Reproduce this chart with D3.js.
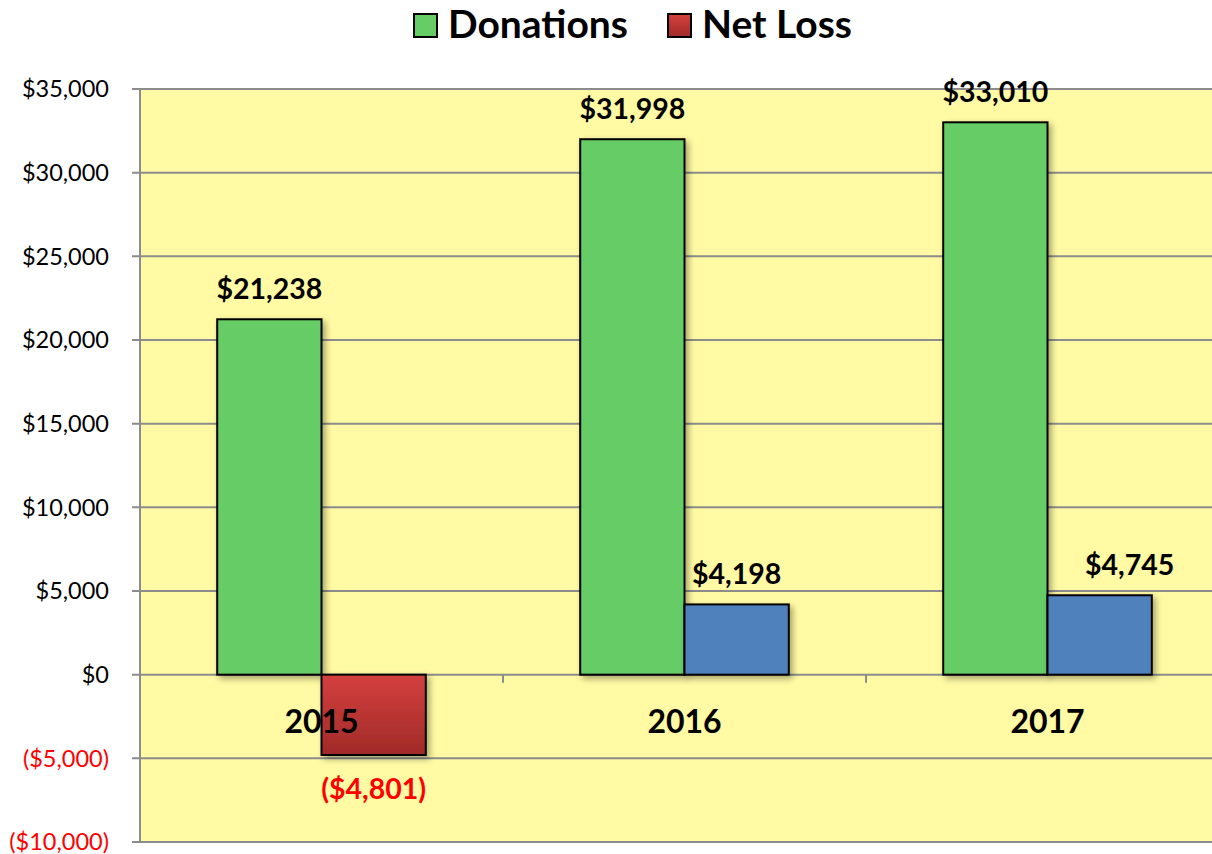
<!DOCTYPE html>
<html><head><meta charset="utf-8">
<script src="https://cdn.jsdelivr.net/npm/d3@7"></script>
<style>body{margin:0;background:#fff}svg{display:block}</style>
</head><body><svg id="c" width="1212" height="854"></svg>
<script>
const categories = ["2015", "2016", "2017"];
const donations = [21238, 31998, 33010];
const netLoss = [-4801, 4198, 4745];
const seriesNames = ["Donations", "Net Loss"];
const yTicks = [-10000, -5000, 0, 5000, 10000, 15000, 20000, 25000, 30000, 35000];

const svg = d3.select("#c");
const font = "Lato, 'Open Sans', sans-serif";
const L = 140, T = 89, R = 1229, B = 842;

const defs = svg.append("defs");
const g1 = defs.append("linearGradient").attr("id","redg").attr("x1",0).attr("y1",0).attr("x2",0).attr("y2",1);
g1.append("stop").attr("offset","0%").attr("stop-color","#D4403E");
g1.append("stop").attr("offset","100%").attr("stop-color","#A02A28");
const f = defs.append("filter").attr("id","sh").attr("x","-20%").attr("y","-20%").attr("width","150%").attr("height","150%");
f.append("feDropShadow").attr("dx",3).attr("dy",3).attr("stdDeviation",3).attr("flood-color","#000").attr("flood-opacity",0.35);

const y = d3.scaleLinear().domain([-10000, 35000]).range([B, T]);
const x0 = d3.scaleBand().domain(categories).range([L, R]).paddingInner(0).paddingOuter(0);
const gap = x0.bandwidth() * 0.2127;
const x1 = d3.scaleBand().domain(seriesNames).range([gap, x0.bandwidth() - gap]).padding(0);

// plot background
svg.append("rect").attr("x", L).attr("y", T).attr("width", R - L).attr("height", B - T).attr("fill", "#FFFAA3");

// gridlines
svg.append("g").selectAll("line").data(yTicks).join("line")
  .attr("x1", L - 8).attr("x2", R).attr("y1", d => y(d)).attr("y2", d => y(d))
  .attr("stroke", "#8C8C8C").attr("stroke-width", 2);
// y axis line
svg.append("line").attr("x1", L).attr("x2", L).attr("y1", T).attr("y2", B).attr("stroke", "#8C8C8C").attr("stroke-width", 2);
// category tick marks at zero
svg.append("g").selectAll("line").data(categories.slice(1)).join("line")
  .attr("x1", d => x0(d)).attr("x2", d => x0(d)).attr("y1", y(0)).attr("y2", y(0) + 8)
  .attr("stroke", "#8C8C8C").attr("stroke-width", 2);

// y tick labels
const fmt = v => v < 0 ? "($" + d3.format(",")(-v) + ")" : "$" + d3.format(",")(v);
svg.append("g").selectAll("text").data(yTicks).join("text")
  .attr("x", L - 31).attr("y", d => y(d)).attr("dy", "0.35em").attr("text-anchor", "end")
  .attr("font-family", font).attr("font-size", 23.5)
  .attr("fill", d => d < 0 ? "#FF0000" : "#000").text(fmt);

// bars
const bars = [];
categories.forEach((c, i) => {
  bars.push({c, s: "Donations", v: donations[i], last: i === categories.length - 1});
  bars.push({c, s: "Net Loss", v: netLoss[i], last: i === categories.length - 1});
});
const color = d => d.s === "Donations" ? "#66CC66" : (d.v < 0 ? "url(#redg)" : "#4F81BD");

svg.append("g").selectAll("rect").data(bars).join("rect")
  .attr("x", d => x0(d.c) + x1(d.s))
  .attr("y", d => y(Math.max(0, d.v)))
  .attr("width", x1.bandwidth())
  .attr("height", d => Math.abs(y(d.v) - y(0)))
  .attr("fill", color).attr("stroke", "#000").attr("stroke-width", 2)
  .attr("filter", "url(#sh)");

// category labels
svg.append("g").selectAll("text").data(categories).join("text")
  .attr("x", d => x0(d) + x0.bandwidth() / 2).attr("y", y(0) + 58)
  .attr("text-anchor", "middle").attr("font-family", font).attr("font-weight", "bold")
  .attr("font-size", 32).attr("fill", "#000").text(d => d);

// data labels
svg.append("g").selectAll("text").data(bars).join("text")
  .attr("x", d => x0(d.c) + x1(d.s) + x1.bandwidth() / 2)
  .attr("dx", d => (d.last && d.s === "Net Loss") ? 30 : 0)
  .attr("y", d => d.v >= 0 ? y(d.v) - 20 : y(d.v) + 44)
  .attr("text-anchor", "middle").attr("font-family", font).attr("font-weight", "bold")
  .attr("font-size", 28.5).attr("fill", d => d.v < 0 ? "#FF0000" : "#000").text(d => fmt(d.v));

// legend
const leg = svg.append("g");
const legItems = [{n: "Donations", fill: "#66CC66", x: 413}, {n: "Net Loss", fill: "url(#redg)", x: 667}];
legItems.forEach(it => {
  leg.append("rect").attr("x", it.x + 1).attr("y", 14).attr("width", 23).attr("height", 23)
    .attr("fill", it.fill).attr("stroke", "#000").attr("stroke-width", 2);
  leg.append("text").attr("x", it.x + 35).attr("y", 38).attr("font-family", font)
    .attr("font-weight", "bold").attr("font-size", 39).attr("fill", "#000").text(it.n);
});
</script></body></html>
